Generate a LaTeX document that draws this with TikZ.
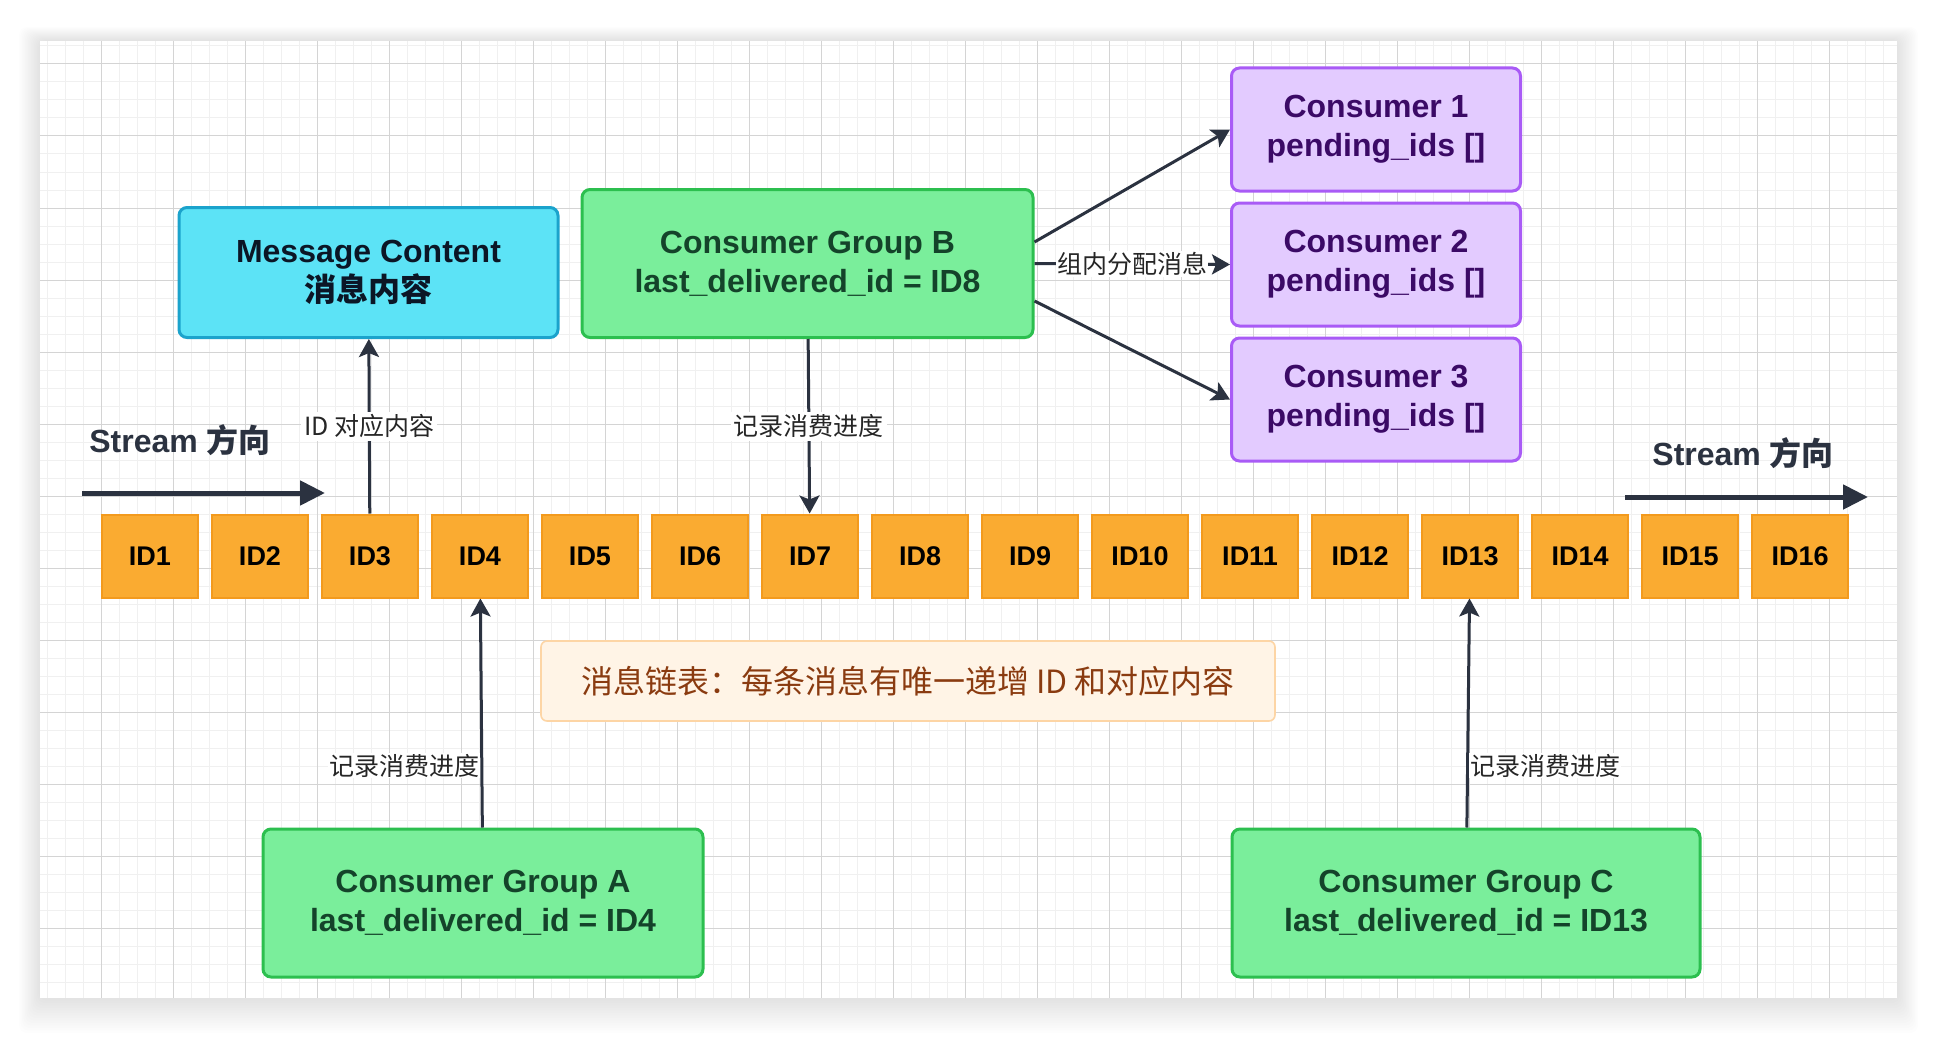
\documentclass[tikz,border=0pt]{standalone}
\usepackage{fontspec}
\setmainfont{Liberation Sans}
\newfontfamily\cjk{Noto Sans CJK SC}
\usepackage{tikz}
\usetikzlibrary{arrows.meta,calc,positioning}

\definecolor{idfill}{HTML}{FAAB31}
\definecolor{idline}{HTML}{F39A1D}
\definecolor{mcfill}{HTML}{5CE3F6}
\definecolor{mcline}{HTML}{1BA3CC}
\definecolor{mctext}{HTML}{0B1626}
\definecolor{grpfill}{HTML}{7AEE9B}
\definecolor{grpline}{HTML}{2CBF4F}
\definecolor{grptext}{HTML}{14432A}
\definecolor{confill}{HTML}{E3CBFF}
\definecolor{conline}{HTML}{A95BF6}
\definecolor{context}{HTML}{3B0A66}
\definecolor{notefill}{HTML}{FFF4E6}
\definecolor{noteline}{HTML}{FDD5A5}
\definecolor{notetext}{HTML}{8A3B10}
\definecolor{arr}{HTML}{2B3240}
\definecolor{gridmin}{HTML}{F0F0F0}
\definecolor{gridmaj}{HTML}{D4D4D4}

\begin{document}
\begin{tikzpicture}[x=0.5pt,y=-0.5pt,node distance=55pt,on grid,
    idbox/.style={draw=idline,fill=idfill,line width=1pt,minimum width=48pt,minimum height=41.5pt,inner sep=0pt,font=\fontsize{13.5}{16}\selectfont\bfseries},
    bigbox/.style={rounded corners=4pt,line width=1.5pt,inner sep=0pt,align=center,font=\fontsize{16}{19.5}\selectfont\bfseries},
    mcbox/.style={bigbox,draw=mcline,fill=mcfill,text=mctext,minimum width=189.5pt,minimum height=65pt},
    grpbox/.style={bigbox,draw=grpline,fill=grpfill,text=grptext,minimum height=74pt},
    conbox/.style={bigbox,draw=conline,fill=confill,text=context,minimum width=144.5pt,minimum height=61.5pt},
    notebox/.style={rounded corners=3pt,draw=noteline,fill=notefill,line width=0.8pt,text=notetext,minimum width=367pt,minimum height=40pt,inner sep=0pt,font=\cjk\fontsize{16}{18}\selectfont},
    flow/.style={-{Stealth[length=9pt,width=10pt,inset=2pt]},every edge/.style={draw=arr,line width=1.5pt}},
    streamarr/.style={draw=arr,line width=2.5pt,-{Triangle[length=12.5pt,width=12pt]}},
    streamlbl/.style={text=arr,inner sep=0pt,font=\fontsize{16}{18}\selectfont\bfseries},
    lbl/.style={fill=white,inner sep=1.5pt,text=black!85,font=\cjk\fontsize{12.5}{14}\selectfont}]

  \useasboundingbox (0,0) rectangle (1938,1038);

  % canvas with shadow and grid
  \foreach \k in {1,...,14}
    \fill[black,opacity=0.006,rounded corners=4pt] (40-1.5*\k,41-\k) rectangle (1897+1.5*\k,998+2.5*\k);
  \fill[white] (40,41) rectangle (1897,998);
  \foreach \gx in {47,65,...,1897} \draw[gridmin,line width=0.5pt] (\gx,41) -- (\gx,998);
  \foreach \gy in {46,64,...,998} \draw[gridmin,line width=0.5pt] (40,\gy) -- (1897,\gy);
  \foreach \gx in {101,173,...,1897} \draw[gridmaj,line width=0.5pt] (\gx,41) -- (\gx,998);
  \foreach \gy in {64,136,...,998} \draw[gridmaj,line width=0.5pt] (40,\gy) -- (1897,\gy);

  % message ids
  \node[idbox] (id1) at (150,556) {ID1};
  \node[idbox] (id2) [right=of id1] {ID2};
  \node[idbox] (id3) [right=of id2] {ID3};
  \node[idbox] (id4) [right=of id3] {ID4};
  \node[idbox] (id5) [right=of id4] {ID5};
  \node[idbox] (id6) [right=of id5] {ID6};
  \node[idbox] (id7) [right=of id6] {ID7};
  \node[idbox] (id8) [right=of id7] {ID8};
  \node[idbox] (id9) [right=of id8] {ID9};
  \node[idbox] (id10) [right=of id9] {ID10};
  \node[idbox] (id11) [right=of id10] {ID11};
  \node[idbox] (id12) [right=of id11] {ID12};
  \node[idbox] (id13) [right=of id12] {ID13};
  \node[idbox] (id14) [right=of id13] {ID14};
  \node[idbox] (id15) [right=of id14] {ID15};
  \node[idbox] (id16) [right=of id15] {ID16};

  \node[mcbox] (mc) at (368.5,272.5) {Message Content\\{\cjk 消息内容}};
  \node[grpbox,minimum width=225.5pt] (cgB) at (807.5,263.5) {Consumer Group B\\last\_delivered\_id = ID8};
  \node[conbox] (c1) at (1376,129.5) {Consumer 1\\pending\_ids []};
  \node[conbox] (c2) [below=67.5pt of c1] {Consumer 2\\pending\_ids []};
  \node[conbox] (c3) [below=67.5pt of c2] {Consumer 3\\pending\_ids []};
  \node[grpbox,minimum width=220pt] (cgA) at (483,903) {Consumer Group A\\last\_delivered\_id = ID4};
  \node[grpbox,minimum width=234pt] (cgC) at (1466,903) {Consumer Group C\\last\_delivered\_id = ID13};
  \node[notebox] (note) at (908,681) {消息链表：每条消息有唯一递增 ID 和对应内容};

  % stream direction
  \coordinate (sl0) at (82,493);
  \coordinate (sl1) at (325,493);
  \coordinate (sr0) at (1625,497);
  \coordinate (sr1) at (1868,497);
  \node[streamlbl,anchor=west] (sll) at (89,440) {Stream {\cjk 方向}};
  \node[streamlbl,anchor=west] (slr) at (1652,453) {Stream {\cjk 方向}};
  \draw[streamarr] (sl0) -- (sl1);
  \draw[streamarr] (sr0) -- (sr1);

  \path[flow]
    (id3) edge node[lbl] {ID 对应内容} (mc)
    (cgB) edge node[lbl] {记录消费进度} (id7)
    (cgA) edge node[lbl,pos=0.27,left,inner sep=0.5pt] {记录消费进度} (id4)
    (cgC) edge node[lbl,pos=0.27,right,inner sep=0.5pt] {记录消费进度} (id13)
    ([yshift=10.75pt]cgB.east) edge (c1.west)
    (cgB.east) edge node[lbl,inner sep=0.5pt] {组内分配消息} (c2.west)
    ([yshift=-18.75pt]cgB.east) edge (c3.west);
\end{tikzpicture}
\end{document}
